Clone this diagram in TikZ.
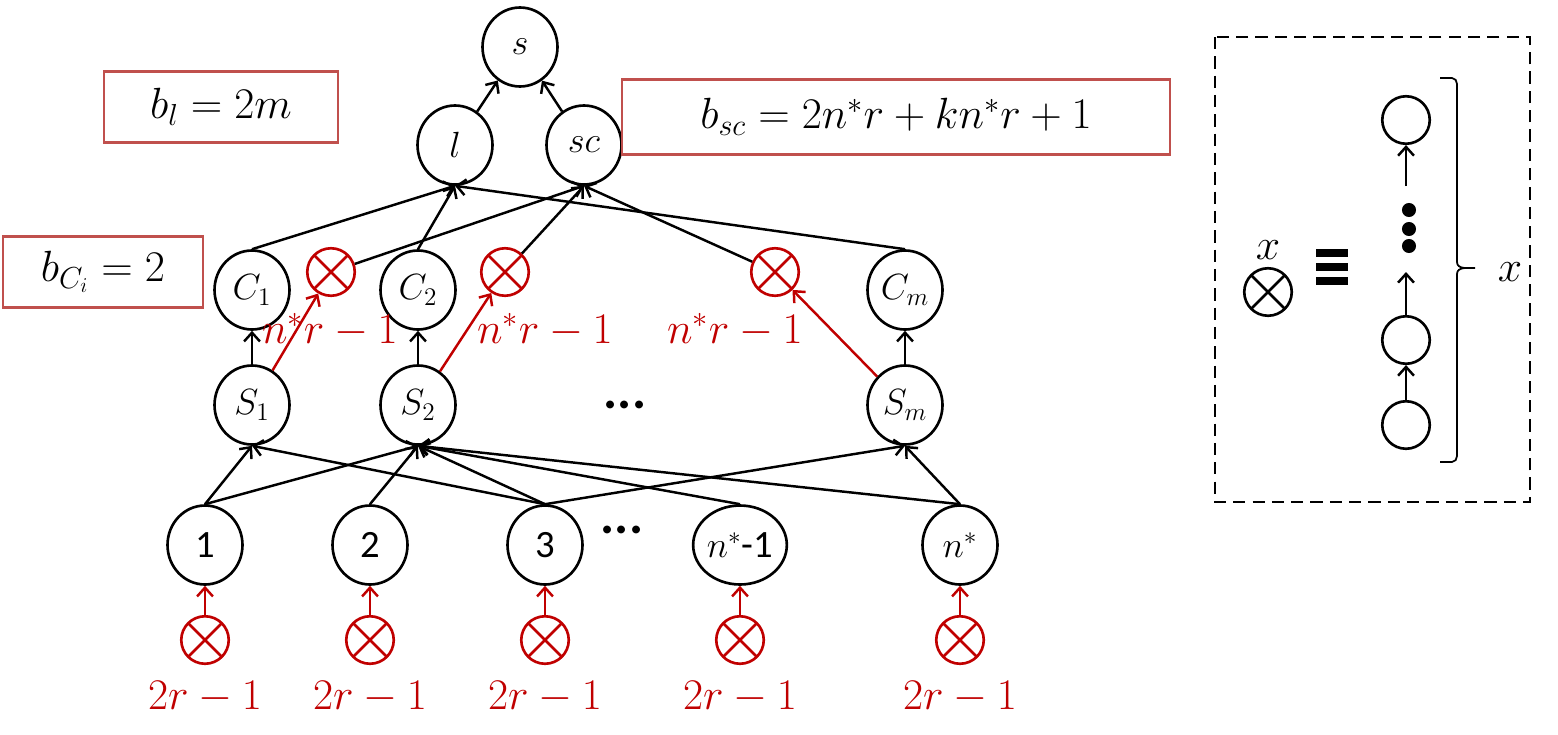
\documentclass[tikz,border=0pt]{standalone}
\usepackage{fontspec}
\setmainfont{Carlito}
\usetikzlibrary{shapes.geometric,arrows.meta}
\definecolor{dred}{RGB}{192,0,0}
\definecolor{bred}{RGB}{192,80,77}
\tikzset{
 nd/.style={ellipse,draw,line width=1.5pt,minimum width=1.5cm,minimum height=1.58cm,inner sep=0pt,font=\fontsize{22}{26}\selectfont},
 xc/.style={circle,draw=dred,line width=1.5pt,minimum size=0.95cm,inner sep=0pt,
   path picture={\draw[dred,line width=1.5pt] (path picture bounding box.north west)--(path picture bounding box.south east) (path picture bounding box.north east)--(path picture bounding box.south west);}},
 xs/.style={circle,draw,line width=1.5pt,minimum size=0.95cm,inner sep=0pt,
   path picture={\draw[line width=1.5pt] (path picture bounding box.north west)--(path picture bounding box.south east) (path picture bounding box.north east)--(path picture bounding box.south west);}},
 ed/.style={-{Straight Barb[length=5pt,width=9pt]},line width=1.4pt},
 re/.style={-{Straight Barb[length=5pt,width=9pt]},line width=1.4pt,draw=dred},
 lab/.style={text=dred,font=\fontsize{24}{28}\selectfont},
 bx/.style={draw=bred,line width=1.6pt,font=\fontsize{24}{28}\selectfont},
 cc/.style={circle,draw,line width=1.5pt,minimum size=0.95cm,inner sep=0pt},
 dot/.style={circle,fill,inner sep=0pt,minimum size=8pt}
}
\begin{document}
\begin{tikzpicture}[x=0.02cm,y=-0.02cm]
\useasboundingbox (0,0) rectangle (1558,734);
\node[nd] (s) at (520,47) {$s$};
\node[nd] (l) at (455,145) {$l$};
\node[nd] (sc) at (584,145) {$sc$};
\node[nd] (C1) at (252,290) {$C_1$};
\node[nd] (C2) at (418,290) {$C_2$};
\node[nd] (Cm) at (905,290) {$C_m$};
\node[xc] (X1) at (331,272) {};
\node[xc] (X2) at (505,272) {};
\node[xc] (X3) at (775,272) {};
\node[nd] (S1) at (252,405) {$S_1$};
\node[nd] (S2) at (418,405) {$S_2$};
\node[nd] (Sm) at (905,405) {$S_m$};
\node[font=\fontsize{30}{30}\selectfont\bfseries] (d1) at (625,405) {...};
\node[nd] (n1) at (205,545) {1};
\node[nd] (n2) at (370,545) {2};
\node[nd] (n3) at (545,545) {3};
\node[nd] (n4) at (740,545) {$n^*$-1};
\node[nd] (n5) at (960,545) {$n^*$};
\node[font=\fontsize{30}{30}\selectfont\bfseries] (d2) at (622,530) {...};
\foreach \i/\x in {1/205,2/370,3/545,4/740,5/960}{
  \node[xc] (B\i) at (\x,640) {};
  \node[lab] (L\i) at (\x,697) {$2r-1$};
  \draw[re] (B\i) -- (n\i);
}
\node[lab] at (330,330) {$n^*r-1$};
\node[lab] at (545,330) {$n^*r-1$};
\node[lab] at (735,330) {$n^*r-1$};
\draw[ed] (l) -- (s); \draw[ed] (sc) -- (s);
\draw[ed] (C1.north) -- (l.south); \draw[ed] (C2.north) -- (l.south); \draw[ed] (Cm.north) -- (l.south);
\draw[ed] (X1) -- (sc.south); \draw[ed] (X2) -- (sc.south); \draw[ed] (X3) -- (sc.south);
\draw[ed] (S1) -- (C1); \draw[ed] (S2) -- (C2); \draw[ed] (Sm) -- (Cm);
\draw[re] (S1) -- (X1); \draw[re] (S2) -- (X2); \draw[re] (Sm) -- (X3);
\draw[ed] (n1.north) -- (S1.south); \draw[ed] (n1.north) -- (S2.south);
\draw[ed] (n2.north) -- (S2.south);
\draw[ed] (n3.north) -- (S1.south); \draw[ed] (n3.north) -- (S2.south); \draw[ed] (n3.north) -- (Sm.south);
\draw[ed] (n4.north) -- (S2.south);
\draw[ed] (n5.north) -- (S2.south); \draw[ed] (n5.north) -- (Sm.south);
\node[bx,minimum width=4.68cm,minimum height=1.42cm] (bl) at (221,107) {$b_l=2m$};
\node[bx,minimum width=10.96cm,minimum height=1.5cm] (bsc) at (896,117) {$b_{sc}=2n^*r+kn^*r+1$};
\node[bx,minimum width=4cm,minimum height=1.42cm] (bc) at (103,272) {$b_{C_i}=2$};
\draw[dashed,line width=1.6pt,dash pattern=on 7pt off 4pt] (1215,37) rectangle (1530,502);
\node[xs] (xx) at (1268,292) {};
\node[font=\fontsize{24}{28}\selectfont] (xl) at (1268,250) {$x$};
\foreach \yy in {253,267,281}{\draw[line width=4pt] (1316,\yy) -- (1348,\yy);}
\node[cc] (c1) at (1406,120) {};
\node[cc] (c2) at (1406,340) {};
\node[cc] (c3) at (1406,425) {};
\node[dot] at (1409,210) {};
\node[dot] at (1409,229) {};
\node[dot] at (1409,246) {};
\coordinate (ta) at (1406,186);
\coordinate (tb) at (1406,272);
\draw[ed] (c3) -- (c2);
\draw[ed] (c2) -- (tb);
\draw[ed] (ta) -- (c1);
\draw[line width=1pt] (1440,78) -- (1452,78) to[out=0,in=90] (1457,84) -- (1457,262) to[out=-90,in=180] (1475,268) to[out=180,in=90] (1457,274) -- (1457,456) to[out=-90,in=0] (1452,462) -- (1440,462);
\node[font=\fontsize{24}{28}\selectfont] (xr) at (1510,272) {$x$};
\end{tikzpicture}
\end{document}
